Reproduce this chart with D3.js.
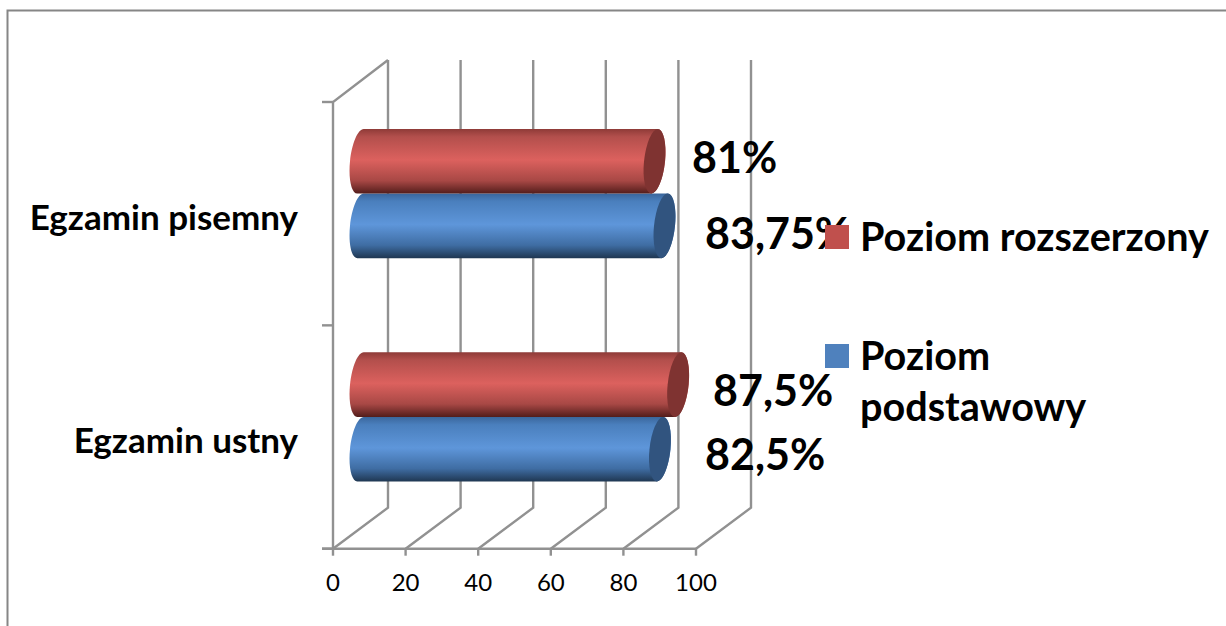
<!DOCTYPE html>
<html>
<head>
<meta charset="utf-8">
<script src="https://cdnjs.cloudflare.com/ajax/libs/d3/7.8.5/d3.min.js"></script>
<style>
  html, body { margin: 0; padding: 0; background: #fff; overflow: hidden; }
  svg { display: block; }
  text { font-family: Lato, "Open Sans", sans-serif; fill: #000; }
  .bold { font-weight: 700; }
</style>
</head>
<body>
<div id="chart"></div>
<script>
var categories = ['Egzamin pisemny', 'Egzamin ustny'];
var seriesNames = ['Poziom rozszerzony', 'Poziom podstawowy'];
var rozszerzony = [81, 87.5];
var podstawowy = [83.75, 82.5];
var valueLabels = [['81%', '87,5%'], ['83,75%', '82,5%']];
var xTicks = [0, 20, 40, 60, 80, 100];

var width = 1226;
var height = 626;
var gray = '#919191';

var svg = d3.select('#chart').append('svg')
	.attr('width', width)
	.attr('height', height);

// gradients for the cylinders
var defs = svg.append('defs');
function addGradient(id, stops) {
	var grad = defs.append('linearGradient')
		.attr('id', id)
		.attr('x1', 0).attr('y1', 0)
		.attr('x2', 0).attr('y2', 1);
	stops.forEach(function (s) {
		grad.append('stop').attr('offset', s[0]).attr('stop-color', s[1]);
	});
}
addGradient('redBody', [[0, '#8f3b38'], [0.12, '#b34f4c'], [0.48, '#dc615e'], [0.8, '#a84845'], [1, '#531d1b']]);
addGradient('blueBody', [[0, '#3a669c'], [0.12, '#4a7fbd'], [0.48, '#5e96da'], [0.8, '#3f6da3'], [1, '#1f3752']]);

// chart frame, cut off on the right and at the bottom
svg.append('path')
	.attr('d', 'M7.5,626V10.5H1226')
	.attr('fill', 'none')
	.attr('stroke', '#868686')
	.attr('stroke-width', 2);

// front edge of the 3d box is the axis, back wall is shifted by depth
var depthX = 55;
var depthY = -41;
var floorY = 548.7;
var topY = 102;

var x = d3.scaleLinear().domain([0, 100]).range([333, 696]);
var y = d3.scaleBand().domain(categories).range([topY, floorY]);
var subY = d3.scaleBand().domain([0, 1]).range([0, y.bandwidth()]).paddingOuter(0.73).paddingInner(0);

var grid = svg.append('g')
	.attr('fill', 'none')
	.attr('stroke', gray)
	.attr('stroke-width', 2.4);

xTicks.forEach(function (t) {
	grid.append('path')
		.attr('d', 'M' + x(t) + ',' + floorY + 'L' + (x(t) + depthX) + ',' + (floorY + depthY) + 'V' + (topY + depthY - 1));
});
grid.append('path').attr('d', 'M' + x(0) + ',' + floorY + 'V' + topY + 'L' + (x(0) + depthX) + ',' + (topY + depthY - 1));
grid.append('path').attr('d', 'M' + (x(0) - 11) + ',' + floorY + 'H' + x(100));
xTicks.forEach(function (t) {
	grid.append('path').attr('d', 'M' + x(t) + ',' + floorY + 'v7');
});
[topY, y(categories[1]), floorY].forEach(function (v) {
	grid.append('path').attr('d', 'M' + (x(0) - 11) + ',' + v + 'H' + x(0));
});

svg.selectAll('.tick-label')
	.data(xTicks)
	.enter().append('text')
	.attr('class', 'tick-label')
	.attr('x', function (d) { return x(d); })
	.attr('y', 591)
	.attr('text-anchor', 'middle')
	.attr('font-size', 24)
	.text(function (d) { return d; });

// cylinders sit half way into the depth
var midX = depthX / 2;
var midY = depthY / 2 + 0.4;
var rx = 10.5;
var skew = 3.2;
var k = 0.5523;

function drawBar(value, category, slot, bodyFill, capFill) {
	var x0 = x(0) + midX;
	var x1 = x(value) + midX;
	var top = y(category) + midY + subY(slot);
	var h = subY.bandwidth();
	var ry = h / 2;
	var cy = top + ry;
	// point on a skewed ellipse around cx
	function p(cx, ex, ey) {
		return (cx + ex * rx - ey * skew) + ',' + (cy + ey * ry);
	}
	var d = 'M' + p(x0, 0, -1) +
		'L' + p(x1, 0, -1) +
		'C' + p(x1, k, -1) + ' ' + p(x1, 1, -k) + ' ' + p(x1, 1, 0) +
		'C' + p(x1, 1, k) + ' ' + p(x1, k, 1) + ' ' + p(x1, 0, 1) +
		'L' + p(x0, 0, 1) +
		'C' + p(x0, -k, 1) + ' ' + p(x0, -1, k) + ' ' + p(x0, -1, 0) +
		'C' + p(x0, -1, -k) + ' ' + p(x0, -k, -1) + ' ' + p(x0, 0, -1) + 'Z';
	svg.append('path').attr('d', d).attr('fill', bodyFill);
	svg.append('ellipse')
		.attr('rx', rx)
		.attr('ry', ry)
		.attr('transform', 'translate(' + x1 + ',' + cy + ') skewX(' + (-Math.atan(skew / ry) * 180 / Math.PI) + ')')
		.attr('fill', capFill);
}

// blue first, red lies on top of it
categories.forEach(function (c, i) {
	drawBar(podstawowy[i], c, 1, 'url(#blueBody)', '#31547f');
	drawBar(rozszerzony[i], c, 0, 'url(#redBody)', '#7f3331');
});

// category labels
svg.selectAll('.cat-label')
	.data(categories)
	.enter().append('text')
	.attr('class', 'cat-label bold')
	.attr('x', 298)
	.attr('y', function (d) { return y(d) + y.bandwidth() / 2 + midY + 36; })
	.attr('text-anchor', 'end')
	.attr('font-size', 35)
	.text(function (d) { return d; });

// value labels
var labelPos = [
	[[692, 173], [713, 406]],
	[[705, 249], [705, 470]]
];
valueLabels.forEach(function (row, s) {
	row.forEach(function (txt, i) {
		svg.append('text')
			.attr('class', 'bold')
			.attr('x', labelPos[s][i][0])
			.attr('y', labelPos[s][i][1])
			.attr('font-size', 43)
			.text(txt);
	});
});

// legend
var legendColors = ['#c0504d', '#4f81bd'];
var legendRows = [[seriesNames[0]], ['Poziom', 'podstawowy']];
var legendY = [225, 344];
legendRows.forEach(function (lines, i) {
	svg.append('rect')
		.attr('x', 825)
		.attr('y', legendY[i])
		.attr('width', 24)
		.attr('height', 24)
		.attr('fill', legendColors[i]);
	lines.forEach(function (line, j) {
		svg.append('text')
			.attr('class', 'bold')
			.attr('x', 860)
			.attr('y', legendY[i] + 25.5 + j * 51)
			.attr('font-size', 39.6)
			.text(line);
	});
});
</script>
</body>
</html>
